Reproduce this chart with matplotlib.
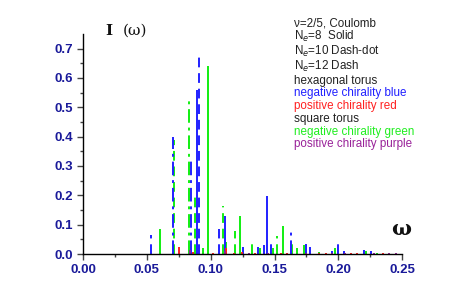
import matplotlib
matplotlib.use('Agg')
import matplotlib.pyplot as plt

# peak positions (omega) and intensities
# hexagonal torus, negative chirality (blue)
hex_neg_8_w = [0.0893, 0.111, 0.137, 0.144, 0.175, 0.1954]
hex_neg_8_i = [0.56, 0.13, 0.025, 0.199, 0.035, 0.01]
hex_neg_10_w = [0.0703, 0.0849, 0.125, 0.142, 0.1628, 0.178, 0.2045]
hex_neg_10_i = [0.40, 0.33, 0.025, 0.03, 0.077, 0.025, 0.012]
hex_neg_12_w = [0.053, 0.0909, 0.1066, 0.147, 0.1998, 0.22, 0.226]
hex_neg_12_i = [0.065, 0.675, 0.085, 0.035, 0.05, 0.015, 0.01]
# hexagonal torus, positive chirality (red)
hex_pos_8_w = [0.075, 0.102, 0.112, 0.135, 0.19]
hex_pos_8_i = [0.025, 0.005, 0.02, 0.004, 0.003]
hex_pos_10_w = [0.086, 0.118, 0.155, 0.215]
hex_pos_10_i = [0.006, 0.004, 0.003, 0.003]
hex_pos_12_w = [0.1245, 0.16, 0.185, 0.21, 0.235]
hex_pos_12_i = [0.006, 0.004, 0.003, 0.003, 0.003]
# square torus, negative chirality (green)
sq_neg_8_w = [0.060, 0.098, 0.112, 0.1228, 0.139, 0.1565, 0.168]
sq_neg_8_i = [0.085, 0.64, 0.04, 0.13, 0.02, 0.097, 0.02]
sq_neg_10_w = [0.0828, 0.094, 0.1486, 0.185, 0.23]
sq_neg_10_i = [0.53, 0.02, 0.02, 0.008, 0.005]
sq_neg_12_w = [0.0716, 0.0878, 0.1095, 0.119, 0.1327, 0.152, 0.164, 0.173, 0.1975, 0.222]
sq_neg_12_i = [0.39, 0.21, 0.165, 0.08, 0.04, 0.06, 0.035, 0.03, 0.02, 0.01]
# square torus, positive chirality (purple)
sq_pos_8_w = [0.084, 0.111, 0.175, 0.24]
sq_pos_8_i = [0.015, 0.01, 0.005, 0.004]
sq_pos_10_w = [0.13, 0.195, 0.245]
sq_pos_10_i = [0.004, 0.004, 0.003]
sq_pos_12_w = [0.145, 0.205, 0.228]
sq_pos_12_i = [0.004, 0.004, 0.003]

xticks = [0.00, 0.05, 0.10, 0.15, 0.20, 0.25]
yticks = [0.0, 0.1, 0.2, 0.3, 0.4, 0.5, 0.6, 0.7]

legend_lines = ['\u03bd=2/5, Coulomb', 'N$_e$=8  Solid', 'N$_e$=10 Dash-dot', 'N$_e$=12 Dash',
                'hexagonal torus', 'negative chirality blue', 'positive chirality red',
                'square torus', 'negative chirality green', 'positive chirality purple']
legend_colors = ['#222222', '#222222', '#222222', '#222222', '#222222',
                 '#2020ff', '#ff2020', '#222222', '#20ee20', '#992299']

blue, red, green, purple = '#2020ff', '#ff2020', '#11ee11', '#992299'
solid, dashdot, dashed = '-', (0, (7, 2.5, 1.5, 2.5)), (0, (5, 3))

series = [
    (sq_neg_8_w, sq_neg_8_i, green, solid),
    (sq_neg_10_w, sq_neg_10_i, green, dashdot),
    (sq_neg_12_w, sq_neg_12_i, green, dashed),
    (hex_neg_8_w, hex_neg_8_i, blue, solid),
    (hex_neg_10_w, hex_neg_10_i, blue, dashdot),
    (hex_neg_12_w, hex_neg_12_i, blue, dashed),
    (hex_pos_8_w, hex_pos_8_i, red, solid),
    (hex_pos_10_w, hex_pos_10_i, red, dashdot),
    (hex_pos_12_w, hex_pos_12_i, red, dashed),
    (sq_pos_8_w, sq_pos_8_i, purple, solid),
    (sq_pos_10_w, sq_pos_10_i, purple, dashdot),
    (sq_pos_12_w, sq_pos_12_i, purple, dashed),
]

fig = plt.figure(figsize=(4.67, 3.05), dpi=100)
ax = fig.add_axes([0.178, 0.167, 0.683, 0.722])

for w, i, c, ls in series:
    ax.vlines(w, 0, i, colors=c, linestyles=[ls], linewidth=1.4)

ax.set_xlim(0, 0.25)
ax.set_ylim(0, 0.75)
ax.spines['top'].set_visible(False)
ax.spines['right'].set_visible(False)
ax.spines['left'].set_linewidth(1.0)
ax.spines['bottom'].set_linewidth(1.0)
ax.set_xticks(xticks)
ax.set_yticks(yticks)
ax.set_xticks([0.025, 0.075, 0.125, 0.175, 0.225], minor=True)
ax.set_yticks([0.05, 0.15, 0.25, 0.35, 0.45, 0.55, 0.65], minor=True)
ax.set_xticklabels(['%.2f' % t for t in xticks])
ax.set_yticklabels(['%.1f' % t for t in yticks])
ax.tick_params(which='major', direction='out', length=4, width=1, color='#444444')
ax.tick_params(which='minor', direction='out', length=2, width=1, color='#444444')
for lab in ax.get_xticklabels() + ax.get_yticklabels():
    lab.set_family('Liberation Sans')
    lab.set_fontweight('bold')
    lab.set_fontsize(9.5)
    lab.set_color('#1a1a9a')

fig.text(0.226, 0.885, 'I', fontsize=11, fontweight='bold', family='DejaVu Serif', color='#111111')
fig.text(0.262, 0.885, '(\u03c9)', fontsize=11, family='DejaVu Serif', color='#111111')
fig.text(0.838, 0.228, '\u03c9', fontsize=15, fontweight='bold', family='DejaVu Serif', color='#111111')

# pixel rows of the legend lines in the reference
rows = [23, 36, 51, 66, 81, 93, 106, 119, 132, 144]
for txt, col, r in zip(legend_lines, legend_colors, rows):
    fig.text(0.629, 1 - r / 305.0, txt, fontsize=8.4, family='Liberation Sans',
             color=col, va='center')

plt.savefig('out.png', dpi=100)
